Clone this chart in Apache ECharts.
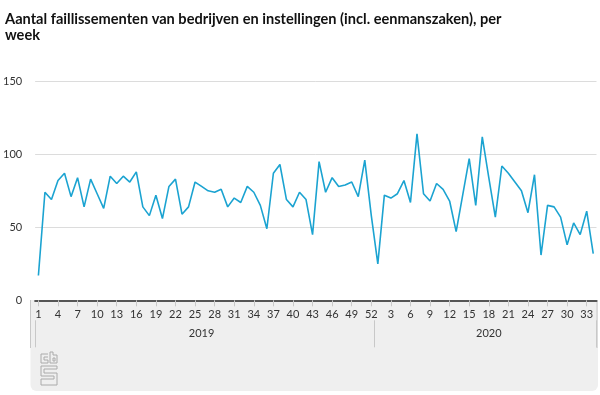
<!DOCTYPE html>
<html><head><meta charset="utf-8">
<script src="https://cdn.jsdelivr.net/npm/echarts@6/dist/echarts.min.js"></script>
<style>html,body{margin:0;padding:0;background:#fff}#c{width:600px;height:395px}</style>
</head><body><div id="c"></div><script>
const weeks = [1,2,3,4,5,6,7,8,9,10,11,12,13,14,15,16,17,18,19,20,21,22,23,24,25,26,27,28,29,30,31,32,33,34,35,36,37,38,39,40,41,42,43,44,45,46,47,48,49,50,51,52,
  1,2,3,4,5,6,7,8,9,10,11,12,13,14,15,16,17,18,19,20,21,22,23,24,25,26,27,28,29,30,31,32,33,34];
const years = weeks.map((w, i) => i < 52 ? '2019' : '2020');
const values = [17,74,69,82,87,71,84,64,83,73,63,85,80,85,81,88,64,58,72,56,78,83,59,64,81,78,75,74,76,64,70,67,78,74,65,49,87,93,69,64,74,69,45,95,74,84,78,79,81,71,96,58,
  25,72,70,73,82,67,114,73,68,80,76,68,47,72,97,65,112,84,57,92,87,81,75,60,86,31,65,64,57,38,53,45,61,32];
const yMin = 0, yMax = 150, yStep = 50;
const titleText = 'Aantal faillissementen van bedrijven en instellingen (incl. eenmanszaken), per\nweek';
const yearLabelIdx = [25, 69];
const yearBoundaryIdx = [0, 52];

const FONT = 'Lato, "Open Sans", sans-serif';
const chart = echarts.init(document.getElementById('c'), null, {renderer: 'canvas'});
chart.setOption({
  animation: false,
  title: {
    text: titleText, left: 0, top: 6,
    textStyle: {fontFamily: FONT, fontSize: 14.6, fontWeight: 'bold', color: '#111', lineHeight: 16}
  },
  grid: {left: 30.5, right: 3.5, top: 81.3, bottom: 94.7, containLabel: false},
  graphic: [
    {type: 'rect', z: -10, silent: true, shape: {x: 30.5, y: 300, width: 567.5, height: 91, r: [0,0,6,6]}, style: {fill: '#efefef'}},
    {type: 'line', z: -5, silent: true, shape: {x1: 30.5, y1: 300, x2: 30.5, y2: 348}, style: {stroke: '#c8c8c8', lineWidth: 1}},
    {type: 'line', z: -5, silent: true, shape: {x1: 597, y1: 300, x2: 597, y2: 348}, style: {stroke: '#c8c8c8', lineWidth: 1}},
    {type: 'group', z: -5, silent: true, children: [
      {type: 'polyline', shape: {points: [[48,354],[41,354],[41,363],[48,363],[48,360],[44,360],[44,357],[48,357]]}, style: {stroke: '#aaa', fill: null, lineWidth: 1}},
      {type: 'polyline', shape: {points: [[50,352],[53,352],[53,355],[57,355],[57,363],[50,363],[50,352]]}, style: {stroke: '#aaa', fill: null, lineWidth: 1}},
      {type: 'rect', shape: {x: 53, y: 358, width: 2, height: 3}, style: {stroke: '#aaa', fill: null, lineWidth: 1}},
      {type: 'polyline', shape: {points: [[57,366],[41,366],[41,376],[54,376],[54,379],[41,379],[41,385],[57,385],[57,373],[44,373],[44,369],[57,369],[57,366]]}, style: {stroke: '#aaa', fill: null, lineWidth: 1}}
    ]}
  ],
  xAxis: [{
    type: 'category', data: weeks, boundaryGap: true, position: 'bottom',
    axisLine: {show: true, lineStyle: {color: '#555', width: 2}},
    axisTick: {show: true, alignWithLabel: true, length: 6, interval: (i) => i % 3 === 0, lineStyle: {color: '#c8c8c8'}},
    axisLabel: {interval: (i) => i % 3 === 0, fontFamily: FONT, fontSize: 11, color: '#333', margin: 9},
    splitLine: {show: false}
  }, {
    type: 'category', data: years, boundaryGap: true, position: 'bottom', offset: 20,
    axisLine: {show: false},
    axisTick: {show: true, length: 27, interval: (i) => yearBoundaryIdx.includes(i), lineStyle: {color: '#c8c8c8'}},
    axisLabel: {interval: (i) => yearLabelIdx.includes(i), fontFamily: FONT, fontSize: 11, color: '#333', margin: 8},
    splitLine: {show: false}
  }],
  yAxis: {
    type: 'value', min: yMin, max: yMax, interval: yStep,
    axisLine: {show: false}, axisTick: {show: false},
    axisLabel: {fontFamily: FONT, fontSize: 11, color: '#333', margin: 13},
    splitLine: {lineStyle: {color: '#dcdcdc', width: 1}}
  },
  series: [{
    type: 'line', data: values, xAxisIndex: 0, symbol: 'none', smooth: false,
    lineStyle: {color: '#1ba3d1', width: 1.6}
  }]
});
</script></body></html>
